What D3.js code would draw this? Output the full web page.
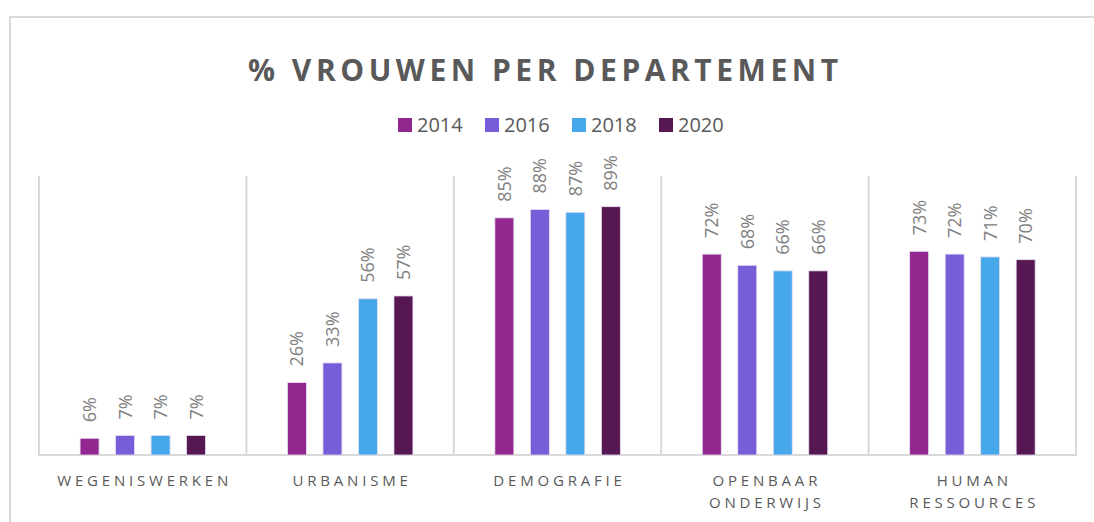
<!DOCTYPE html>
<html>
<head>
<meta charset="utf-8">
<script src="https://cdn.jsdelivr.net/npm/d3@7"></script>
<style>
  body { margin: 0; background: #fff; }
  svg { display: block; font-family: "Open Sans", sans-serif; }
</style>
</head>
<body>
<svg class="chart"></svg>
<script>
var width = 1094,
    height = 522;

// data
var departments = [["WEGENISWERKEN"], ["URBANISME"], ["DEMOGRAFIE"], ["OPENBAAR", "ONDERWIJS"], ["HUMAN", "RESSOURCES"]];
var years = ["2014", "2016", "2018", "2020"];
var v2014 = [0.06, 0.26, 0.85, 0.72, 0.73];
var v2016 = [0.07, 0.33, 0.88, 0.68, 0.72];
var v2018 = [0.07, 0.56, 0.87, 0.66, 0.71];
var v2020 = [0.07, 0.57, 0.89, 0.66, 0.70];
var colors = ["#92278f", "#785dd8", "#46a8ea", "#571753"];

var series = [v2014, v2016, v2018, v2020];

var svg = d3.select(".chart")
            .attr("width", width)
            .attr("height", height);

// outer frame
svg.append("rect")
   .attr("x", 10).attr("y", 17)
   .attr("width", width + 10).attr("height", height + 10)
   .attr("fill", "none")
   .attr("stroke", "#d9d9d9")
   .attr("stroke-width", 2);

// title
svg.append("text")
   .attr("x", 543).attr("y", 81)
   .attr("text-anchor", "middle")
   .attr("fill", "#595959")
   .attr("font-size", 30)
   .attr("font-weight", 700)
   .attr("textLength", 590)
   .attr("lengthAdjust", "spacing")
   .text("% VROUWEN PER DEPARTEMENT");

// legend
var legend = svg.selectAll(".legend").data(years).enter()
  .append("g")
  .attr("class", "legend")
  .attr("transform", function(d, i){ return "translate(" + (398 + i * 87) + ",118)"; });

legend.append("rect")
  .attr("width", 14).attr("height", 14)
  .attr("fill", function(d, i){ return colors[i]; });

legend.append("text")
  .attr("x", 19).attr("y", 14)
  .attr("fill", "#595959")
  .attr("font-size", 20)
  .text(function(d){ return d; });

// scales
var x0 = d3.scaleBand()
  .domain(d3.range(departments.length))
  .range([39, 1076]);

var bw = x0.bandwidth();
var x1 = d3.scaleBand()
  .domain(years)
  .range([bw * 0.198, bw * 0.803])
  .paddingInner(0.465)
  .paddingOuter(0);

var y = d3.scaleLinear()
  .domain([0, 1])
  .range([455, 176]);

// category separators
svg.selectAll(".sep").data(d3.range(departments.length + 1)).enter()
  .append("line")
  .attr("class", "sep")
  .attr("x1", function(d){ return 39 + d * bw; })
  .attr("x2", function(d){ return 39 + d * bw; })
  .attr("y1", y(1))
  .attr("y2", y(0))
  .attr("stroke", "#d9d9d9")
  .attr("stroke-width", 2);

// baseline
svg.append("line")
  .attr("x1", 38).attr("x2", 1077)
  .attr("y1", y(0)).attr("y2", y(0))
  .attr("stroke", "#d9d9d9")
  .attr("stroke-width", 2);

// bars
var groups = svg.selectAll(".dept").data(departments).enter()
  .append("g")
  .attr("class", "dept")
  .attr("transform", function(d, i){ return "translate(" + x0(i) + ",0)"; });

groups.selectAll("rect")
  .data(function(d, i){ return years.map(function(yr, j){ return {year: yr, s: j, value: series[j][i]}; }); })
  .enter().append("rect")
  .attr("x", function(d){ return x1(d.year); })
  .attr("width", x1.bandwidth())
  .attr("y", function(d){ return y(d.value); })
  .attr("height", function(d){ return y(0) - y(d.value); })
  .attr("fill", function(d){ return colors[d.s]; })
  .attr("stroke", "#e6e0f0")
  .attr("stroke-width", 0.8);

// data labels
groups.selectAll(".lbl")
  .data(function(d, i){ return years.map(function(yr, j){ return {year: yr, value: series[j][i]}; }); })
  .enter().append("text")
  .attr("class", "lbl")
  .attr("transform", function(d){
    return "translate(" + (x1(d.year) + x1.bandwidth() / 2) + "," + (y(d.value) - 16) + ") rotate(-90)";
  })
  .attr("dy", "0.36em")
  .attr("fill", "#808080")
  .attr("font-size", 18)
  .text(function(d){ return d3.format(".0%")(d.value); });

// category labels
groups.append("text")
  .attr("text-anchor", "middle")
  .attr("fill", "#595959")
  .attr("font-size", 15)
  .attr("letter-spacing", "3.8px")
  .selectAll("tspan")
  .data(function(d){ return d; })
  .enter().append("tspan")
  .attr("x", bw / 2 + 2)
  .attr("y", function(d, i){ return 486 + i * 22; })
  .text(function(d){ return d; });
</script>
</body>
</html>
